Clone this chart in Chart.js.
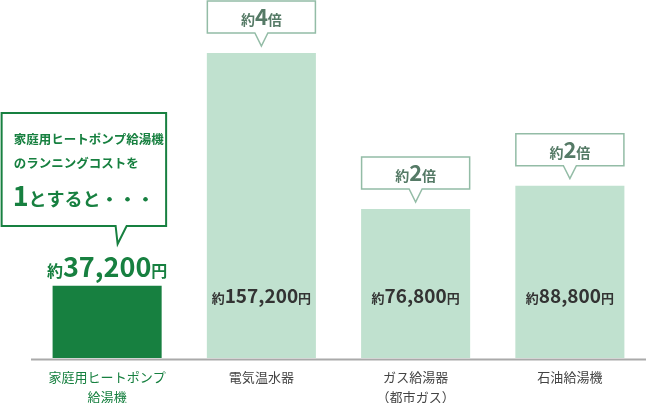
<!DOCTYPE html>
<html><head><meta charset="utf-8">
<script src="https://cdn.jsdelivr.net/npm/chart.js@4"></script>
<style>html,body{margin:0;padding:0;background:#fff}canvas{display:block}</style>
</head><body>
<canvas id="c" width="647" height="403"></canvas>
<script>
const categories = [["家庭用ヒートポンプ","給湯機"],["電気温水器"],["ガス給湯器","（都市ガス）"],["石油給湯機"]];
const costs = [37200, 157200, 76800, 88800];
const costLabels = ["37,200", "157,200", "76,800", "88,800"];
const ratioLabels = [null, "4", "2", "2"];
const calloutLines = ["家庭用ヒートポンプ給湯機", "のランニングコストを"];

const F = '"Noto Sans CJK JP","Noto Sans",sans-serif';
const GREEN = '#178040';
const LIGHT = '#c0e1cf';
const BOXLINE = '#93bca6';
const BOXTEXT = '#557a66';

function runs(ctx, parts, cx, by, align) {
  let w = 0;
  parts.forEach(p => { ctx.font = p.f; p.w = ctx.measureText(p.t).width; w += p.w; });
  let x = align === 'left' ? cx : cx - w / 2;
  ctx.textBaseline = 'alphabetic'; ctx.textAlign = 'left';
  parts.forEach(p => { ctx.font = p.f; ctx.fillStyle = p.c; ctx.fillText(p.t, x, by); x += p.w; });
}

const deco = {
  id: 'deco',
  afterDatasetsDraw(chart) {
    const ctx = chart.ctx;
    const meta = chart.getDatasetMeta(0);
    const x = chart.scales.x;
    ctx.save();
    const y0 = chart.scales.y.getPixelForValue(0);
    ctx.strokeStyle = '#aaaaaa'; ctx.lineWidth = 2;
    ctx.beginPath(); ctx.moveTo(31, y0 + 1.5); ctx.lineTo(646, y0 + 1.5); ctx.stroke();

    categories.forEach((lines, i) => {
      const cx = x.getPixelForValue(i);
      ctx.font = '13px ' + F; ctx.textAlign = 'center'; ctx.textBaseline = 'alphabetic';
      ctx.fillStyle = i === 0 ? GREEN : '#444444';
      lines.forEach((l, k) => ctx.fillText(l, cx, 382 + k * 20));
    });

    meta.data.forEach((bar, i) => {
      const bx = bar.x, top = bar.y, w = bar.width;
      if (i === 0) {
        runs(ctx, [
          {t:'約', f:'bold 16px ' + F, c:GREEN},
          {t:costLabels[i], f:'bold 27px ' + F, c:GREEN},
          {t:'円', f:'bold 16px ' + F, c:GREEN}
        ], bx, top - 9);
        const L = bx - 105.5, R = bx + 59, T = 113, B = 226;
        ctx.strokeStyle = GREEN; ctx.lineWidth = 2; ctx.fillStyle = '#fff';
        ctx.beginPath();
        ctx.moveTo(L, T); ctx.lineTo(R, T); ctx.lineTo(R, B);
        ctx.lineTo(bx + 19.5, B); ctx.lineTo(bx + 10.5, 244); ctx.lineTo(bx + 8.5, B);
        ctx.lineTo(L, B); ctx.closePath(); ctx.fill(); ctx.stroke();
        ctx.font = 'bold 12.5px ' + F; ctx.fillStyle = GREEN; ctx.textAlign = 'left';
        ctx.fillText(calloutLines[0], L + 12, 144);
        ctx.fillText(calloutLines[1], L + 12, 168);
        runs(ctx, [
          {t:'1', f:'bold 27px ' + F, c:GREEN},
          {t:'とすると・・・', f:'bold 18px ' + F, c:GREEN}
        ], L + 11, 206, 'left');
      } else {
        runs(ctx, [
          {t:'約', f:'bold 13px ' + F, c:'#333'},
          {t:costLabels[i], f:'bold 19px ' + F, c:'#333'},
          {t:'円', f:'bold 13px ' + F, c:'#333'}
        ], bx, 303);
        const L = bx - w / 2 + 0.5, R = bx + w / 2 - 0.5, B = top - 20, T = B - 32;
        ctx.strokeStyle = BOXLINE; ctx.lineWidth = 1.5; ctx.fillStyle = '#fff';
        ctx.beginPath();
        ctx.moveTo(L, T); ctx.lineTo(R, T); ctx.lineTo(R, B);
        ctx.lineTo(bx + 6.5, B); ctx.lineTo(bx, top - 7); ctx.lineTo(bx - 6.5, B);
        ctx.lineTo(L, B); ctx.closePath(); ctx.fill(); ctx.stroke();
        runs(ctx, [
          {t:'約', f:'bold 14px ' + F, c:BOXTEXT},
          {t:ratioLabels[i], f:'bold 22px ' + F, c:BOXTEXT},
          {t:'倍', f:'bold 14px ' + F, c:BOXTEXT}
        ], bx, T + 24);
      }
    });
    ctx.restore();
  }
};

new Chart(document.getElementById('c'), {
  type: 'bar',
  data: {
    labels: categories.map(c => c.join('')),
    datasets: [{
      data: costs,
      backgroundColor: [GREEN, LIGHT, LIGHT, LIGHT],
      borderWidth: 0,
      categoryPercentage: 1,
      barPercentage: 0.707
    }]
  },
  options: {
    responsive: false,
    animation: false,
    layout: { padding: { left: 30, right: 0, top: 0, bottom: 45 } },
    plugins: { legend: { display: false }, tooltip: { enabled: false } },
    scales: {
      x: { display: false },
      y: { display: false, min: 0, max: 184500 }
    }
  },
  plugins: [deco]
});
</script>
</body></html>
